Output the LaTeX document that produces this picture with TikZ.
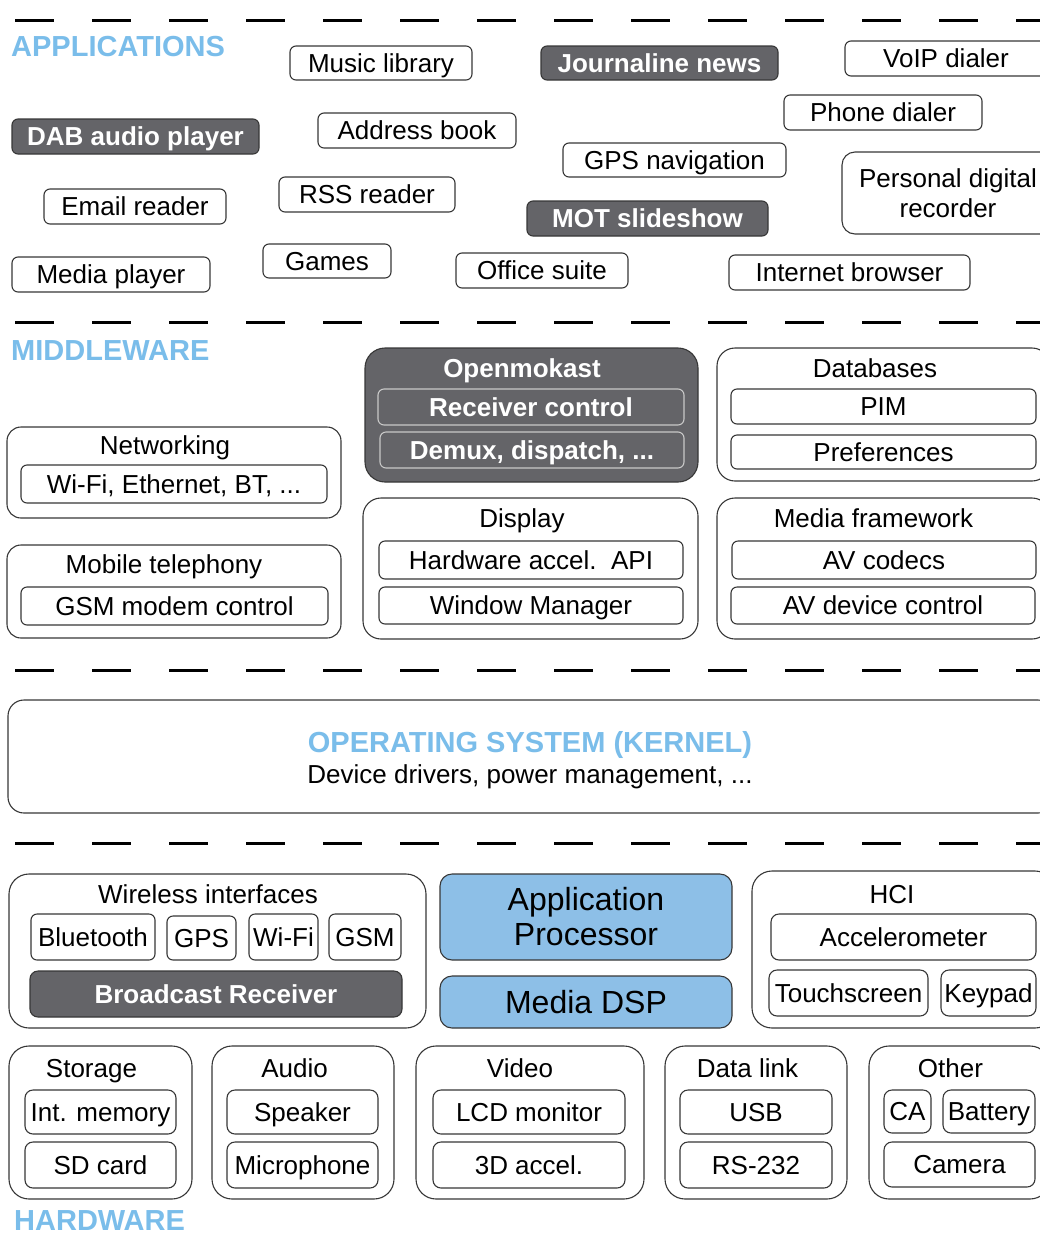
\documentclass[tikz,border=0pt]{standalone}
\usepackage{fontspec}
\setmainfont{Liberation Sans}
\usepackage{xcolor}
\usepackage{tikz}
\definecolor{skyblue}{RGB}{122,189,234}
\definecolor{chipblue}{RGB}{141,191,231}
\definecolor{slate}{RGB}{100,100,104}
\definecolor{edge}{RGB}{55,55,55}
\definecolor{softedge}{RGB}{200,200,200}
\newcommand{\boxfont}{\fontsize{26}{30}\selectfont}
\newcommand{\chipfont}{\fontsize{32}{35}\selectfont}
\newcommand{\layerfont}{\fontsize{29}{34}\selectfont\bfseries}

\begin{document}
\begin{tikzpicture}[
    x=1pt, y=-1pt,
    every node/.style={inner sep=0, font=\boxfont, text height=24.7, text depth=6},
    item/.style={rectangle, draw=edge, line width=1.1, rounded corners=6, fill=white},
    dark/.style={item, fill=slate, text=white, font=\boxfont\bfseries},
    group/.style={rectangle, draw=edge, line width=1.1, rounded corners=14, fill=white},
    chip/.style={item, fill=chipblue, rounded corners=12, font=\chipfont, align=center, text height=, text depth=},
    layer/.style={anchor=base west, text=skyblue, font=\layerfont, text height=, text depth=},
    sep/.style={line width=3, dash pattern=on 39pt off 38pt}
]
\useasboundingbox (0,0) rectangle (1040,1235);

\foreach \y in {20,322,670,843}
    \draw[sep] (15,\y) -- (1040,\y);

% applications
\node[layer] (apps) at (11,56) {APPLICATIONS};
\node[item, minimum width=182, minimum height=34] (music) at (381,63) {Music library};
\node[dark, minimum width=237, minimum height=34] (journal) at (659.5,63) {Journaline news};
\node[item, minimum width=202, minimum height=35] (voip) at (946,58.5) {VoIP dialer};
\node[item, minimum width=198, minimum height=35] (phone) at (883,112.5) {Phone dialer};
\node[dark, minimum width=247, minimum height=35] (dab) at (135.5,136.5) {DAB audio player};
\node[item, minimum width=198, minimum height=35] (address) at (417,130.5) {Address book};
\node[item, minimum width=223, minimum height=34] (gpsnav) at (674.5,160) {GPS navigation};
\node[item, minimum width=182, minimum height=35] (email) at (135,206.5) {Email reader};
\node[item, minimum width=176, minimum height=35] (rss) at (367,194.5) {RSS reader};
\node[item, rounded corners=13, align=center, text height=, text depth=, minimum width=212, minimum height=82] (pdr) at (948,193) {Personal digital\\recorder};
\node[dark, minimum width=241, minimum height=35] (mot) at (647.5,218.5) {MOT slideshow};
\node[item, minimum width=128, minimum height=34] (games) at (327,261) {Games};
\node[item, minimum width=198, minimum height=35] (mediaplayer) at (111,274.5) {Media player};
\node[item, minimum width=172, minimum height=35] (office) at (542,270.5) {Office suite};
\node[item, minimum width=241, minimum height=35] (browser) at (849.5,272.5) {Internet browser};

% middleware
\node[layer] (mid) at (11,360) {MIDDLEWARE};
\node[group, minimum width=334, minimum height=91] (net) at (174,472.5) {};
\node (nettitle) at (165,445) {Networking};
\node[item, minimum width=306, minimum height=38] (wifieth) at (174,484) {Wi-Fi, Ethernet, BT, ...};
\node[group, minimum width=334, minimum height=93] (mobile) at (174,591.5) {};
\node (mobiletitle) at (164,564) {Mobile telephony};
\node[item, minimum width=307, minimum height=38] (gsmctl) at (174.5,606) {GSM modem control};

\node[group, fill=slate, rounded corners=20, minimum width=333, minimum height=134] (omk) at (531.5,415) {};
\node[text=white, font=\boxfont\bfseries] (omktitle) at (522,368) {Openmokast};
\node[dark, draw=softedge, minimum width=306, minimum height=36] (rxctl) at (531,407) {Receiver control};
\node[dark, draw=softedge, minimum width=304, minimum height=36] (demux) at (532,450) {Demux, dispatch, ...};

\node[group, rounded corners=18, minimum width=335, minimum height=141] (display) at (530.5,568.5) {};
\node (displaytitle) at (522,518) {Display};
\node[item, minimum width=304, minimum height=38] (hwapi) at (531,560) {Hardware accel.\ \ API};
\node[item, minimum width=304, minimum height=37] (winmgr) at (531,605.5) {Window Manager};

\node[group, rounded corners=18, minimum width=333, minimum height=133] (db) at (883.5,414.5) {};
\node (dbtitle) at (875,368) {Databases};
\node[item, minimum width=305, minimum height=35] (pim) at (883.5,406.5) {PIM};
\node[item, minimum width=305, minimum height=34] (prefs) at (883.5,452) {Preferences};

\node[group, rounded corners=18, minimum width=333, minimum height=141] (mf) at (883.5,568.5) {};
\node (mftitle) at (873.5,518) {Media framework};
\node[item, minimum width=304, minimum height=38] (codecs) at (884,560) {AV codecs};
\node[item, minimum width=304, minimum height=37] (avdev) at (883,605.5) {AV device control};

% operating system
\node[group, rounded corners=16, minimum width=1046, minimum height=113] (os) at (531,756.5) {};
\node[anchor=base, text=skyblue, font=\layerfont, text height=, text depth=] (ostitle) at (530,752) {OPERATING SYSTEM (KERNEL)};
\node[anchor=base, text height=, text depth=] (osdesc) at (530,783) {Device drivers, power management, ...};

% hardware
\node[group, rounded corners=20, minimum width=417, minimum height=154] (wireless) at (217.5,951) {};
\node (wirelesstitle) at (208,894) {Wireless interfaces};
\node[item, minimum width=124, minimum height=46] (bt) at (93,937) {Bluetooth};
\node[item, minimum width=69, minimum height=44] (gpsrx) at (201.5,938) {GPS};
\node[item, minimum width=69, minimum height=46] (wifirx) at (283.5,937) {Wi-Fi};
\node[item, minimum width=72, minimum height=46] (gsmrx) at (365,937) {GSM};
\node[dark, rounded corners=8, minimum width=372, minimum height=46] (bcast) at (216,994) {Broadcast Receiver};

\node[chip, minimum width=292, minimum height=86] (ap) at (586,917) {Application\\Processor};
\node[chip, minimum width=292, minimum height=52] (dsp) at (586,1002) {Media DSP};

\node[group, rounded corners=20, minimum width=303, minimum height=157] (hci) at (903.5,949.5) {};
\node (hcititle) at (892,894) {HCI};
\node[item, rounded corners=8, minimum width=265, minimum height=46] (accel) at (903.5,937) {Accelerometer};
\node[item, rounded corners=8, minimum width=159, minimum height=46] (touch) at (848.5,993) {Touchscreen};
\node[item, rounded corners=8, minimum width=95, minimum height=46] (keypad) at (988.5,993) {Keypad};

\node[group, rounded corners=20, minimum width=183, minimum height=153] (storage) at (100.5,1122.5) {};
\node (storagetitle) at (91.5,1068) {Storage};
\node[item, rounded corners=8, minimum width=151, minimum height=44] (intmem) at (100.5,1112) {Int. memory};
\node[item, rounded corners=8, minimum width=151, minimum height=46] (sdcard) at (100.5,1165) {SD card};

\node[group, rounded corners=20, minimum width=182, minimum height=153] (audio) at (303,1122.5) {};
\node (audiotitle) at (294.5,1068) {Audio};
\node[item, rounded corners=8, minimum width=151, minimum height=44] (speaker) at (302.5,1112) {Speaker};
\node[item, rounded corners=8, minimum width=151, minimum height=46] (mic) at (302.5,1165) {Microphone};

\node[group, rounded corners=20, minimum width=228, minimum height=153] (video) at (530,1122.5) {};
\node (videotitle) at (520,1068) {Video};
\node[item, rounded corners=8, minimum width=192, minimum height=44] (lcd) at (529,1112) {LCD monitor};
\node[item, rounded corners=8, minimum width=192, minimum height=46] (accel3d) at (529,1165) {3D accel.};

\node[group, rounded corners=20, minimum width=182, minimum height=153] (datalink) at (756,1122.5) {};
\node (datalinktitle) at (747.5,1068) {Data link};
\node[item, rounded corners=8, minimum width=152, minimum height=44] (usb) at (756,1112) {USB};
\node[item, rounded corners=8, minimum width=152, minimum height=46] (rs) at (756,1165) {RS-232};

\node[group, rounded corners=20, minimum width=181, minimum height=153] (other) at (959.5,1122.5) {};
\node (othertitle) at (950.5,1068) {Other};
\node[item, rounded corners=8, minimum width=47, minimum height=43] (ca) at (907.5,1111.5) {CA};
\node[item, rounded corners=8, minimum width=92, minimum height=43] (battery) at (989,1111.5) {Battery};
\node[item, rounded corners=8, minimum width=151, minimum height=45] (camera) at (959.5,1164.5) {Camera};

\node[layer] (hwlabel) at (14,1230) {HARDWARE};
\end{tikzpicture}
\end{document}
